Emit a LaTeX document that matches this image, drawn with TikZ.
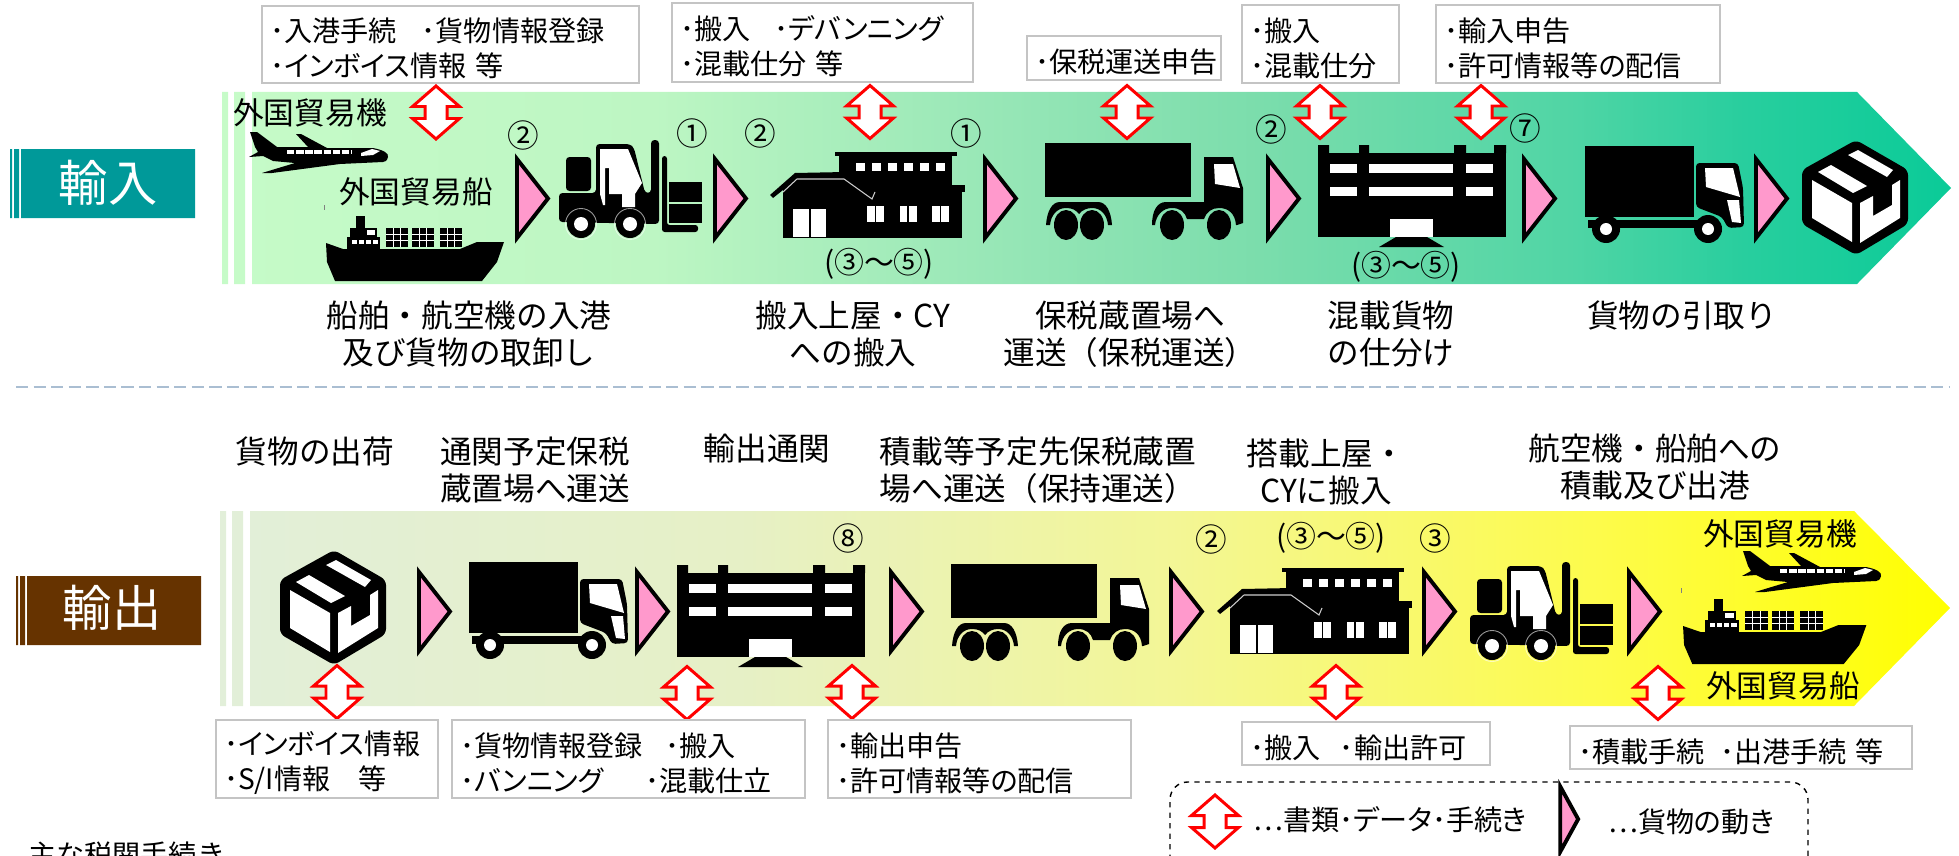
\documentclass[tikz,border=0pt]{standalone}
\usepackage{fontspec}
\setmainfont{Noto Sans CJK JP}
\newfontfamily\paltfont[RawFeature=+palt]{Noto Sans CJK JP}

\definecolor{import_teal}{HTML}{009999}
\definecolor{export_brown}{HTML}{663300}
\definecolor{flow_pink}{HTML}{FF99CC}
\definecolor{box_gray}{HTML}{C4C4C4}
\definecolor{rule_blue}{HTML}{AABED2}
\definecolor{ia}{HTML}{C6FBC8}
\definecolor{ib}{HTML}{BDF6C3}
\definecolor{ic}{HTML}{93E5B5}
\definecolor{id}{HTML}{7BDDAC}
\definecolor{ie}{HTML}{50D5A5}
\definecolor{if}{HTML}{28CE9E}
\definecolor{ig}{HTML}{0ACB98}
\definecolor{ea}{HTML}{E2EFD9}
\definecolor{eb}{HTML}{E6F0C6}
\definecolor{ec}{HTML}{F3F696}
\definecolor{ed}{HTML}{FDFB4A}
\definecolor{ee}{HTML}{FFFF00}

\pgfdeclarehorizontalshading{importband}{100bp}{color(0bp)=(ia); color(25bp)=(ia); color(37.5bp)=(ib); color(48.5bp)=(ic); color(55bp)=(id); color(64bp)=(ie); color(69bp)=(if); color(75bp)=(ig); color(100bp)=(ig)}
\pgfdeclarehorizontalshading{exportband}{100bp}{color(0bp)=(ea); color(25bp)=(ea); color(40bp)=(eb); color(52.5bp)=(ec); color(65bp)=(ed); color(75bp)=(ee); color(100bp)=(ee)}

\tikzset{
   flagline/.style={draw=black, fill=flow_pink, line width=2.2pt, miter limit=20},
   docline/.style={draw=red, fill=white, line width=1.7pt, miter limit=20},
   bandtext/.style={font=\fontsize{17.5}{21}\selectfont, inner sep=0pt},
   numtext/.style={font=\paltfont\fontsize{18}{20}\selectfont, inner sep=0pt},
   rangetext/.style={font=\paltfont\fontsize{17}{20}\selectfont, inner sep=0pt},
   captext/.style={font=\fontsize{18}{21.3}\selectfont, align=center, inner sep=0pt},
   infobox/.style 2 args={draw=box_gray, fill=white, line width=1.1pt, text width=#1cm, minimum height=#2cm,
      inner xsep=0.16cm, inner ysep=0pt, align=left, font=\paltfont\fontsize{16}{20}\selectfont,
      execute at begin node=\rule{0pt}{18pt}},
   pics/flowflag/.style={code={\draw[flagline] (2,4) -- (2,83) -- (33,43.5) -- cycle;}},
   pics/docarrow/.style={code={\draw[docline] (0,-#1) -- (23.5,-6) -- (11,-6) -- (11,6) -- (23.5,6) -- (0,#1) -- (-23.5,6) -- (-11,6) -- (-11,-6) -- (-23.5,-6) -- cycle;}},
   % plane
   pics/plane/.style={code={
      \fill (1,1) -- (8,1) -- (28,16) -- (59,16) -- (47,3) -- (52,3) -- (78,17) -- (124,17) .. controls (134,19) and (140,22) .. (139,26) .. controls (138,30) and (136,31) .. (134,31) -- (91,33) -- (23,42) -- (13,42) -- (46,32) -- (24,30) -- (14,25) -- (0,26) -- (9,21) -- (6,16) -- cycle;
      \draw[white, line width=2pt, dash pattern=on 4.2pt off 1pt] (38,21) -- (103,21);
      \fill[white] (112,22) -- (123,18) -- (131,20) -- (124,24) -- (112,25) -- cycle;
   }},
   % ship
   pics/ship/.style={code={
      \fill[black!50] (-1,-11) rectangle (-0.4,-6);
      \fill (1,27) -- (18,33) -- (135,33) -- (152,26) -- (179,26) -- (172,46) -- (157,65) -- (10,65) -- (2,46) -- cycle;
      \fill (31,0) rectangle (40,12);
      \fill (25,12) rectangle (52,21);
      \fill (22,21) rectangle (55,33);
      \fill[white] (42,14) rectangle (50,19);
      \foreach \wx in {27,34,41,48} \fill[white] (\wx,24) rectangle (\wx+5,28);
      \foreach \sx in {61,87,115} {
         \fill (\sx,12) rectangle (\sx+22,31);
         \draw[white, line width=0.35pt] (\sx+7.3,12) -- (\sx+7.3,31) (\sx+14.6,12) -- (\sx+14.6,31) (\sx,18.3) -- (\sx+22,18.3) (\sx,24.6) -- (\sx+22,24.6);
      }
   }},
   % forklift
   pics/forklift/.style={code={
      \fill[rounded corners=2pt] (0,53) -- (37,53) -- (37,4) -- (71,4) -- (75,8) -- (86,53) -- (92,53) -- (92,0) -- (100,0) -- (100,84) -- (0,82) -- cycle;
      \fill[white] (41,9) -- (69,9) -- (83,43) -- (76,54) -- (76,67) -- (63,67) -- (63,54) -- (50,54) -- (50,28) -- (46,28) -- (46,65) -- (44,65) -- (41,54) -- cycle;
      \fill[rounded corners=2pt] (7,17) rectangle (32,51);
      \fill[rounded corners=1.5pt] (103,16) -- (108,16) -- (108,85) -- (139,85) -- (139,92) -- (103,92) -- cycle;
      \fill (110,42) rectangle (143,62);
      \fill (110,64) rectangle (143,83);
      \foreach \wx in {22,71} {
         \draw[white, opacity=0.6, line width=0.5pt] (\wx,84) circle (15.5);
         \fill (\wx,84) circle (14);
         \fill[white] (\wx,84) circle (7);
      }
   }},
   % warehouse
   pics/warehouse/.style={code={
      \fill (65,0) rectangle (187,4);
      \fill (69,4) rectangle (182,34);
      \foreach \wx in {86,102,118,134,150,166} \fill[white] (\wx,11) rectangle (\wx+8.5,19);
      \fill (97,33) rectangle (195,40);
      \fill (13,40) rectangle (192,86);
      \fill (0,43) -- (25,21) -- (75,20) -- (106,40) -- (104,48) -- (13,48) -- (13,38) -- (3,46) -- cycle;
      \draw[white, opacity=0.8, line width=0.6pt] (13,40) -- (27,27) -- (74,27) -- (102,47) -- (105,40);
      \fill[white] (23,57) rectangle (56,85);
      \draw[line width=0.8pt] (40,57) -- (40,85);
      \foreach \wx in {97,129.5,162} {
         \fill[white] (\wx,54) rectangle (\wx+17,70);
         \draw[line width=0.8pt] (\wx+8.5,54) -- (\wx+8.5,70);
      }
   }},
   % depot
   pics/depot/.style={code={
      \fill (0,0) rectangle (11,8) (41,0) rectangle (51,8) (136,0) rectangle (148,8) (176,0) rectangle (188,8);
      \fill (0,8) rectangle (188,92);
      \foreach \ry in {19,42} {
         \fill[white] (12,\ry) rectangle (39,\ry+9);
         \fill[white] (51,\ry) rectangle (135,\ry+9);
         \fill[white] (148,\ry) rectangle (175,\ry+9);
      }
      \fill[white] (72,74) rectangle (115,92);
      \fill (78,92) -- (109,92) -- (126,102) -- (61,102) -- cycle;
   }},
   % long truck
   pics/longtruck/.style={code={
      \fill (0,0) rectangle (146,54);
      \fill (159,14) -- (188,14) -- (198,45) -- (198,80) -- (192,82) -- (191,82) .. controls (190,70) and (183,65) .. (174,65) .. controls (167,65) and (161,69) .. (159,76) -- (142,76) .. controls (140,69) and (135,65) .. (127,65) .. controls (118,65) and (111,72) .. (110,82) -- (107,82) .. controls (107,68) and (112,59) .. (121,59) -- (159,59) -- cycle;
      \fill[white] (169,21) -- (188,21) -- (195,45) -- (170,41) -- cycle;
      \fill (1,82) .. controls (2,68) and (7,59) .. (15,59) -- (53,59) .. controls (61,59) and (66,68) .. (67,82) -- (63,82) .. controls (62,72) and (56,65) .. (47,65) .. controls (42,65) and (37,67) .. (34,71) .. controls (31,67) and (27,65) .. (21,65) .. controls (12,65) and (6,72) .. (5,82) -- cycle;
      \foreach \wx in {21,47,127,174} \fill (\wx,82) ellipse [x radius=12, y radius=15];
   }},
   % short truck
   pics/shorttruck/.style={code={
      \fill (0,0) rectangle (109,71);
      \fill[rounded corners=2pt] (111,17) -- (153,17) -- (158,42) -- (159,81) -- (143,82) -- (137,71) -- (111,61) -- cycle;
      \fill[white] (120,22) -- (148,22) -- (155,51) -- (121,41) -- cycle;
      \fill[white] (142,54) -- (154,54) -- (156,77) -- (147,76) -- cycle;
      \fill (3,74) rectangle (125,82);
      \foreach \wx in {21,123} {
         \fill (\wx,83) circle (14);
         \fill[white] (\wx,83) circle (6);
      }
   }},
   % parcel
   pics/parcel/.style={code={
      \fill[rounded corners=3pt] (53,0) -- (105,30) -- (105,84) -- (53,115) -- (-1,84) -- (-1,30) -- cycle;
      \fill[white] (9,40) -- (49,63) -- (49,102) -- (9,78) -- cycle;
      \fill[white] (57,63) -- (70,56) -- (70,76) -- (89,65) -- (89,45) -- (97,40) -- (97,78) -- (57,103) -- cycle;
      \fill[white] (15,32) -- (28,25) -- (64,46) -- (50,53) -- cycle;
      \fill[white] (45,15) -- (55,10) -- (90,30) -- (84,37) -- cycle;
   }},
}

\begin{document}
\begin{tikzpicture}[x=0.02cm, y=-0.02cm]
   \useasboundingbox (0,0) rectangle (1959,855);
   % import band
   \shade [shading=importband] (222,92) rectangle (228,284) (234,92) rectangle (245,284)
      (252,92) -- (1857,92) -- (1951,188) -- (1857,284) -- (252,284) -- cycle;
   % export band
   \shade [shading=exportband] (220,511) rectangle (226,706) (232,511) rectangle (243,706)
      (250,511) -- (1854,511) -- (1950,608) -- (1854,706) -- (250,706) -- cycle;
   % section tags
   \fill [import_teal] (10,149) rectangle (12,218) (14,149) rectangle (19,218) (21,149) rectangle (195,218);
   \fill [export_brown] (16,576) rectangle (18,645) (20,576) rectangle (25,645) (27,576) rectangle (201,645);
   \node [font=\fontsize{28}{32}\selectfont, text=white] (tagimport) at (108,183) {輸入};
   \node [font=\fontsize{28}{32}\selectfont, text=white] (tagexport) at (112,608) {輸出};
   % line between the two bands
   \draw [rule_blue, line width=1.2pt, dash pattern=on 7pt off 3pt] (16,387) -- (1950,387);
   % icons of the import band
   \pic at (249,131) {plane};
   \pic at (325,216) {ship};
   \pic at (559,140) {forklift};
   \pic at (770,152) {warehouse};
   \pic at (1045,143) {longtruck};
   \pic at (1318,145) {depot};
   \pic at (1585,146) {shorttruck};
   \pic at (1803,140) {parcel};
   % icons of the export band
   \pic at (281,550) {parcel};
   \pic at (469,562) {shorttruck};
   \pic at (677,565) {depot};
   \pic at (951,564) {longtruck};
   \pic at (1217,568) {warehouse};
   \pic at (1470,562) {forklift};
   \pic at (1742,550) {plane};
   \pic [xscale=1.03] at (1682,599) {ship};
   % cargo flags
   \foreach \fx in {515,713,983,1266,1522,1754} \pic at (\fx,155) {flowflag};
   \foreach \fx in {417,635,889,1169,1422,1627} \pic at (\fx,568) {flowflag};
   % document arrows
   \foreach \ax/\ay in {436/112.5,870/112,1127/112,1320/112,1481/112} \pic at (\ax,\ay) {docarrow=26.5};
   \foreach \ax/\ay in {337/692,687/693,852/692,1336/692,1658/693} \pic at (\ax,\ay) {docarrow=26.5};
   % boxes on top
   \node [infobox={7.22}{1.54}] (boximport1) at (450.5,44.5) {･入港手続\hspace{.9em}･貨物情報登録\\･インボイス情報 等};
   \node [infobox={5.70}{1.58}] (boximport2) at (822.5,42.5) {･搬入\hspace{.85em}･デバンニング\\･混載仕分 等};
   \node [infobox={3.56}{0.88}] (boximport3) at (1124,58) {･保税運送申告};
   \node [infobox={2.82}{1.56}] (boximport4) at (1320.5,44) {･搬入\\･混載仕分};
   \node [infobox={5.36}{1.56}] (boximport5) at (1578,44) {･輸入申告\\･許可情報等の配信};
   % boxes below
   \node [infobox={4.12}{1.56}] (boxexport1) at (327,759) {･インボイス情報\\･S/I情報　等};
   \node [infobox={6.74}{1.56}] (boxexport2) at (628.5,759) {･貨物情報登録\hspace{.8em}･搬入\\･バンニング\hspace{1.5em}･混載仕立};
   \node [infobox={5.74}{1.56}] (boxexport3) at (979.5,759) {･輸出申告\\･許可情報等の配信};
   \node [infobox={4.64}{0.86}] (boxexport4) at (1366,743.5) {･搬入\hspace{.7em}･輸出許可};
   \node [infobox={6.52}{0.86}] (boxexport5) at (1741,747.5) {･積載手続\hspace{.55em}･出港手続 等};
   % texts in the import band
   \node [bandtext] (planeimport) at (310,113) {外国貿易機};
   \node [bandtext] (shipimport) at (416,192) {外国貿易船};
   \node [numtext] (numa) at (523,135) {②};
   \node [numtext] (numb) at (692,133) {①};
   \node [numtext] (numc) at (760,133) {②};
   \node [numtext] (numd) at (966,133) {①};
   \node [rangetext] (nume) at (879,264) {(③～⑤)};
   \node [numtext] (numf) at (1271,129) {②};
   \node [numtext] (numg) at (1525,128) {⑦};
   \node [rangetext] (numh) at (1406,267) {(③～⑤)};
   % texts in the export band
   \node [numtext] (numi) at (848,538) {⑧};
   \node [numtext] (numj) at (1211,539) {②};
   \node [rangetext] (numk) at (1331,538) {(③～⑤)};
   \node [numtext] (numl) at (1435,538) {③};
   \node [bandtext] (planeexport) at (1780,534) {外国貿易機};
   \node [bandtext] (shipexport) at (1783,686) {外国貿易船};
   % captions below the import band
   \node [captext] (capa) at (469,334) {船舶・航空機の入港\\及び貨物の取卸し};
   \node [captext] (capb) at (853,334) {搬入上屋・CY\\への搬入};
   \node [captext] (capc) at (1130,334) {保税蔵置場へ\\運送（保税運送）};
   \node [captext] (capd) at (1391,334) {混載貨物\\の仕分け};
   \node [captext] (cape) at (1682,315) {貨物の引取り};
   % captions above the export band
   \node [captext] (capf) at (315,451) {貨物の出荷};
   \node [captext] (capg) at (535,470) {通関予定保税\\蔵置場へ運送};
   \node [captext] (caph) at (767,448) {輸出通関};
   \node [captext, align=left] (capi) at (1038,470) {積載等予定先保税蔵置\\場へ運送（保持運送）};
   \node [captext] (capj) at (1326,472) {搭載上屋・\\CYに搬入};
   \node [captext] (capk) at (1655,467) {航空機・船舶への\\積載及び出港};
   % legend
   \draw [dashed, rounded corners=10pt, line width=0.8pt] (1170,860) -- (1170,782) -- (1808,782) -- (1808,860);
   \pic at (1215,821.5) {docarrow=26.5};
   \pic [xscale=0.58, yscale=0.83] at (1559,783) {flowflag};
   \node [font=\paltfont\fontsize{16}{19}\selectfont, inner sep=0pt, anchor=west] (legenddoc) at (1253,820) {⋯書類･データ･手続き};
   \node [font=\paltfont\fontsize{16}{19}\selectfont, inner sep=0pt, anchor=west] (legendmove) at (1608,822) {⋯貨物の動き};
   % cut off at the lower edge
   \node [font=\fontsize{16}{19}\selectfont, inner sep=0pt, anchor=north west] (notehead) at (28,841) {主な税関手続き};
\end{tikzpicture}
\end{document}
